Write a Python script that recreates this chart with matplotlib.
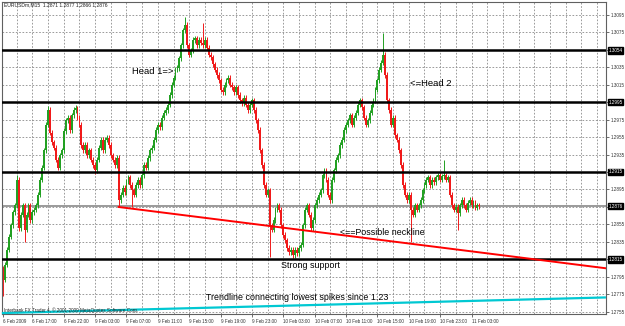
import matplotlib
matplotlib.use('Agg')
import matplotlib.pyplot as plt

plt.rcParams['font.family'] = ['Liberation Sans', 'DejaVu Sans']

# EURUSDm M15 closes, in pips above 1.2700 (one value per bar)
close_pips = [
    92, 109, 126, 141, 154, 169, 177, 206, 151, 166,
    177, 149, 166, 177, 160, 169, 172, 177, 189, 206,
    220, 240, 269, 286, 260, 249, 243, 229, 220, 234,
    240, 262, 274, 277, 263, 280, 286, 288, 277, 269,
    246, 240, 246, 234, 240, 229, 223, 217, 229, 243,
    252, 240, 252, 254, 246, 234, 229, 223, 231, 183,
    189, 197, 192, 204, 209, 200, 194, 189, 200, 206,
    200, 211, 223, 220, 231, 240, 243, 252, 263, 269,
    266, 277, 283, 286, 292, 303, 315, 323, 332, 334,
    345, 360, 377, 383, 360, 349, 354, 366, 368, 360,
    366, 363, 360, 366, 357, 349, 346, 338, 332, 326,
    320, 309, 306, 315, 320, 323, 315, 312, 306, 312,
    303, 297, 294, 300, 292, 286, 292, 297, 286, 274,
    263, 240, 223, 200, 189, 194, 154, 149, 160, 172,
    177, 172, 154, 143, 137, 128, 123, 126, 120, 126,
    122, 128, 132, 154, 172, 177, 166, 151, 160, 177,
    183, 189, 194, 211, 217, 206, 189, 183, 206, 217,
    229, 234, 246, 252, 263, 269, 274, 280, 269, 277,
    283, 292, 297, 289, 277, 269, 274, 283, 292, 297,
    309, 320, 332, 340, 349, 326, 297, 286, 269, 277,
    257, 252, 240, 223, 200, 189, 183, 189, 172, 166,
    177, 172, 177, 183, 194, 200, 206, 209, 200, 206,
    203, 209, 211, 206, 210, 211, 206, 209, 189, 177,
    172, 175, 168, 177, 183, 177, 172, 180, 183, 177,
    180, 174, 177, 176,
]
first_open_pips = 105
wick_pips = 3
high_spikes = {7: 212, 23: 291, 37: 292, 93: 392, 102: 385, 194: 374, 225: 229}
low_spikes = {0: 73, 11: 135, 47: 213, 59: 175, 66: 175, 136: 118, 148: 117,
              167: 180, 208: 135, 232: 149}

level_lines = [1.3054, 1.2995, 1.2915, 1.2815]
bid_price = 1.2876

y_ticks = [1.2755, 1.2775, 1.2795, 1.2815, 1.2835, 1.2855, 1.2875, 1.2895,
           1.2915, 1.2935, 1.2955, 1.2975, 1.2995, 1.3015, 1.3035, 1.3055,
           1.3075, 1.3095]

label_bars = [0, 15, 31, 47, 63, 79, 95, 111, 127, 143, 159, 175, 191, 207, 223, 239]
time_labels = ['6 Feb 2009', '6 Feb 17:00', '6 Feb 22:00', '9 Feb 03:00', '9 Feb 07:00',
               '9 Feb 11:00', '9 Feb 15:00', '9 Feb 19:00', '9 Feb 23:00', '10 Feb 03:00',
               '10 Feb 07:00', '10 Feb 11:00', '10 Feb 15:00', '10 Feb 19:00',
               '10 Feb 23:00', '11 Feb 03:00']
grid_bars = list(range(7, 308, 8))

# trendlines: (bar, price) pairs
neckline = [(59, 1.2875), (240, 1.2824)]
support_trend = [(0, 1.27538), (307, 1.27716)]

to_price = lambda p: 1.27 + p / 10000.0

closes = [to_price(p) for p in close_pips]
opens = [to_price(first_open_pips)] + closes[:-1]
highs, lows = [], []
for i, (o, c) in enumerate(zip(opens, closes)):
    highs.append(to_price(high_spikes[i]) if i in high_spikes else max(o, c) + wick_pips / 10000.0)
    lows.append(to_price(low_spikes[i]) if i in low_spikes else min(o, c) - wick_pips / 10000.0)

W, H = 625, 326
fig = plt.figure(figsize=(W / 100, H / 100), dpi=100)
ax = fig.add_axes([2 / W, (H - 314) / H, 604 / W, 312 / H])

# grid
for b in grid_bars:
    ax.axvline(b, color='#8a8a8a', lw=0.6, ls=(0, (2, 2)), zorder=0)
for t in y_ticks:
    ax.axhline(t, color='#8a8a8a', lw=0.6, ls=(0, (2, 2)), zorder=0)

# candles
green, red = '#22a022', '#f01a1a'
for i in range(len(closes)):
    col = green if closes[i] >= opens[i] else red
    ax.vlines(i, lows[i], highs[i], color=col, lw=0.7, zorder=2)
    lo, hi = min(opens[i], closes[i]), max(opens[i], closes[i])
    ax.bar(i, max(hi - lo, 0.00003), bottom=lo, width=0.95, color=col, lw=0, zorder=2)

# horizontal levels
for lv in level_lines:
    ax.axhline(lv, color='black', lw=1.8, zorder=3)
ax.axhline(bid_price, color='#9a9a9a', lw=1.4, zorder=1)

# axes styling (ticks first, limits afterwards so ticks don't widen them)
for s in ax.spines.values():
    s.set_color('#606060')
    s.set_linewidth(0.8)
ax.yaxis.tick_right()
boxed = level_lines + [bid_price]
ylabels = ['' if any(abs(t - b) < 0.0006 for b in boxed) else f'{t:.4f}' for t in y_ticks]
ax.set_yticks(y_ticks, ylabels)
ax.tick_params(axis='y', labelsize=3.3, length=2, width=0.5, pad=1.5, colors='#333333')
ax.set_xticks(label_bars, time_labels, ha='left')
ax.tick_params(axis='x', labelsize=3.3, length=2, width=0.5, pad=1.5, colors='#333333')
ax.set_xlim(-0.5, 307.6)
ax.set_ylim(1.27527, 1.31093)

# trendlines (neckline is a ray to the right edge)
(x0, y0), (x1, y1) = neckline
slope = (y1 - y0) / (x1 - x0)
xe = ax.get_xlim()[1]
ax.plot([x0, xe], [y0, y0 + slope * (xe - x0)], color='#ff0000', lw=1.4, zorder=4)
(x0, y0), (x1, y1) = support_trend
ax.plot([x0, x1], [y0, y1], color='#00c8d2', lw=1.6, zorder=4, clip_on=False)

# notes
fs = 6.4
ax.text(66, 1.3030, 'Head 1=>', fontsize=6.8, va='center', zorder=5)
ax.text(207.5, 1.3016, '<=Head 2', fontsize=6.8, va='center', zorder=5)
ax.text(172, 1.2846, '<==Possible neckline', fontsize=fs, va='center', zorder=5)
ax.text(142, 1.2808, 'Strong support', fontsize=fs, va='center', zorder=5)
ax.text(103.5, 1.2772, 'Trendline connecting lowest spikes since 1.23', fontsize=fs,
        va='center', zorder=5)

ytr = ax.get_yaxis_transform()
for v in boxed:
    ax.text(1.004, v, f'{v:.4f}', transform=ytr, fontsize=3.3, color='white', va='center',
            ha='left', clip_on=False,
            bbox=dict(boxstyle='square,pad=0.15', fc='black', ec='black'))

fig.text(4 / W, 1 - 5 / H, 'EURUSDm,M15  1.2871 1.2877 1.2866 1.2876', fontsize=3.6,
         va='center', color='#222222')
fig.text(4 / W, 1 - 310 / H, 'Interbank FX Trader 4, \u00a9 2001-2009 MetaQuotes Software Corp.',
         fontsize=3.3, va='center', color='#222222')

fig.savefig('out.png', dpi=100)
